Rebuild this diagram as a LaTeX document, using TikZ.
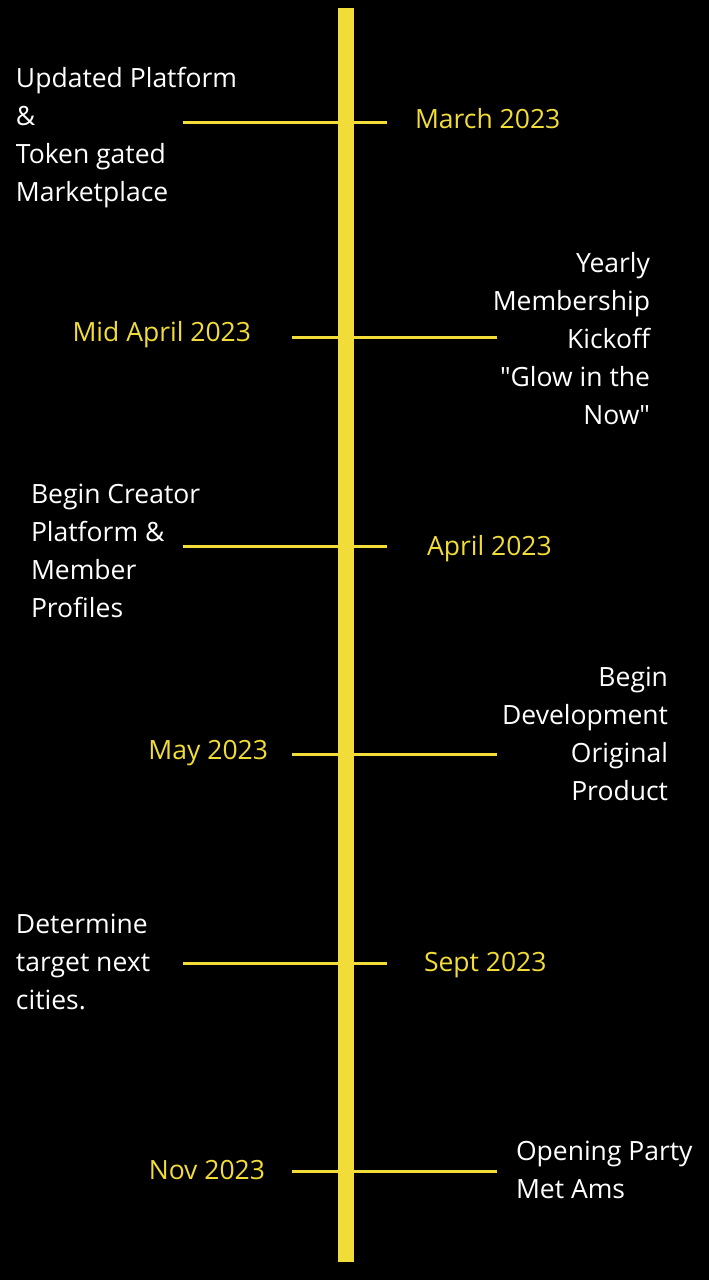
\documentclass[tikz,border=0pt]{standalone}
\usepackage{fontspec}
\setmainfont{Open Sans}
\definecolor{tlyellow}{HTML}{F2DC38}
\begin{document}
\begin{tikzpicture}[x=1pt,y=-1pt,
  every node/.style={inner sep=0pt, outer sep=0pt, font=\fontsize{26.5}{38}\selectfont},
  desc/.style={text=white},
  datelbl/.style={text=tlyellow},
  tick/.style={draw=tlyellow, line width=3pt}]
\fill[black] (0,0) rectangle (709,1280);
\useasboundingbox (0,0) rectangle (709,1280);
% main vertical bar
\fill[tlyellow] (338,8) rectangle (354,1262);
% left-reaching ticks
\foreach \n/\y in {a/122,c/546,e/963}{
  \coordinate (\n1) at (183,\y); \coordinate (\n2) at (387,\y);
  \draw[tick] (\n1) -- (\n2);}
% right-reaching ticks
\foreach \n/\y in {b/337,d/754,f/1171}{
  \coordinate (\n1) at (292,\y); \coordinate (\n2) at (497,\y);
  \draw[tick] (\n1) -- (\n2);}
% milestone 1
\node[desc, anchor=west, align=left] (t1) at (16,137.5) {Updated Platform\\\&\\Token gated\\Marketplace};
\node[datelbl, anchor=west] (d1) at (415,118.5) {March 2023};
% milestone 2
\node[datelbl, anchor=east] (d2) at (251,334.5) {Mid April 2023};
\node[desc, anchor=east, align=right] (t2) at (650,338.5) {Yearly\\Membership\\Kickoff\\\textquotedbl Glow in the\\Now\textquotedbl};
% milestone 3
\node[desc, anchor=west, align=left] (t3) at (31,550.5) {Begin Creator\\Platform \&\\Member\\Profiles};
\node[datelbl, anchor=west] (d3) at (427,548.5) {April 2023};
% milestone 4
\node[datelbl, anchor=east] (d4) at (268,753.5) {May 2023};
\node[desc, anchor=east, align=right] (t4) at (668,734) {Begin\\Development\\Original\\Product};
% milestone 5
\node[desc, anchor=west, align=left] (t5) at (16,962) {Determine\\target next\\cities.};
\node[datelbl, anchor=west] (d5) at (424,965) {Sept 2023};
% milestone 6
\node[datelbl, anchor=east] (d6) at (265,1170) {Nov 2023};
\node[desc, anchor=west, align=left] (t6) at (516,1170) {Opening Party\\Met Ams};
\end{tikzpicture}
\end{document}
